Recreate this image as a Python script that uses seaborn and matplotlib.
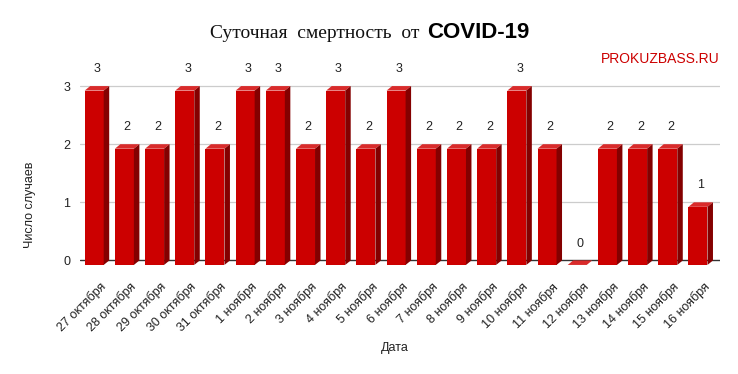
import numpy as np
import pandas as pd
import matplotlib
matplotlib.use("Agg")
import matplotlib.pyplot as plt
import matplotlib.transforms as mtrans
from matplotlib.patches import Polygon
import seaborn as sns

dates = ["27 октября", "28 октября", "29 октября", "30 октября", "31 октября",
         "1 ноября", "2 ноября", "3 ноября", "4 ноября", "5 ноября", "6 ноября",
         "7 ноября", "8 ноября", "9 ноября", "10 ноября", "11 ноября", "12 ноября",
         "13 ноября", "14 ноября", "15 ноября", "16 ноября"]
deaths = [3, 2, 2, 3, 2, 3, 3, 2, 3, 2, 3, 2, 2, 2, 3, 2, 0, 2, 2, 2, 1]
y_ticks = [0, 1, 2, 3]

title_main = "Суточная  смертность  от  "
title_bold = "COVID-19"
watermark = "PROKUZBASS.RU"
x_label = "Дата"
y_label = "Число случаев"

df = pd.DataFrame({"date": dates, "deaths": deaths})

sns.set_theme(style="white")
plt.rcParams['font.family'] = ['Liberation Sans', 'DejaVu Sans']

W, H, DPI = 738, 374, 100
fig = plt.figure(figsize=(W / DPI, H / DPI), dpi=DPI)
ax_left, ax_right = 80, 720
ax_top_px, ax_bot_px = 82, 268
ax = fig.add_axes([ax_left / W, 1 - ax_bot_px / H,
                   (ax_right - ax_left) / W, (ax_bot_px - ax_top_px) / H])

FRONT = "#cc0000"
SIDE = "#840000"
TOP = "#d92b2b"

n = len(dates)
sns.barplot(data=df, x="date", y="deaths", color=FRONT, width=0.63,
            saturation=1, ax=ax, zorder=3)

xmin, xmax = -0.47, n - 1 + 0.73
ymin, ymax = -0.13, 3.07
ax.set_xlim(xmin, xmax)
ax.set_ylim(ymin, ymax)

# pixel -> data unit conversions
px_x = (ax_right - ax_left) / (xmax - xmin)
px_y = (ax_bot_px - ax_top_px) / (ymax - ymin)
dx = 5.5 / px_x
dy = 4.5 / px_y
shift = 4.5 / px_y

for p, v in zip(ax.patches, deaths):
    x0 = p.get_x()
    w = p.get_width()
    h = p.get_height()
    p.set_y(-shift)
    p.set_edgecolor("none")
    p.set_clip_on(False)
    top = h - shift
    top_face = Polygon([(x0, top), (x0 + w, top), (x0 + w + dx, top + dy), (x0 + dx, top + dy)],
                       closed=True, facecolor=TOP, edgecolor="none", zorder=3, clip_on=False)
    side_face = Polygon([(x0 + w, -shift), (x0 + w + dx, -shift + dy), (x0 + w + dx, top + dy), (x0 + w, top)],
                        closed=True, facecolor=SIDE, edgecolor="none", zorder=3, clip_on=False)
    ax.add_patch(top_face)
    ax.add_patch(side_face)
    ax.annotate(str(v), (x0 + w / 2 + dx / 2, v), xytext=(0, 10), textcoords="offset points",
                ha="center", va="baseline", fontsize=9, color="#222222", zorder=5)

# grid
ax.set_yticks(y_ticks)
for t in y_ticks[1:]:
    ax.axhline(t, color="#cccccc", lw=0.9, zorder=1)
ax.axhline(0, color="#333333", lw=1.0, zorder=2)

for s in ax.spines.values():
    s.set_visible(False)

ax.tick_params(axis="y", length=0, pad=7, labelsize=9, labelcolor="#222222")
ax.tick_params(axis="x", length=0, pad=9, labelsize=9, labelcolor="#222222")
ax.set_xticks(range(n))
ax.set_xticklabels(dates, rotation=45, ha="right", rotation_mode="anchor")
offset = mtrans.ScaledTranslation(0.05, 0, fig.dpi_scale_trans)
for lab in ax.get_xticklabels():
    lab.set_transform(lab.get_transform() + offset)
ax.set_xlabel(x_label, fontsize=9, color="#222222")
ax.set_ylabel(y_label, fontsize=9, color="#222222")
ax.xaxis.set_label_coords((395 - ax_left) / (ax_right - ax_left), -(348 - ax_bot_px) / (ax_bot_px - ax_top_px))
ax.xaxis.label.set_va("center")
ax.yaxis.set_label_coords(-(ax_left - 30) / (ax_right - ax_left), (ax_bot_px - 205) / (ax_bot_px - ax_top_px))
ax.yaxis.label.set_va("center")

fig.text(720 / W, 1 - 59 / H, watermark, ha="right", va="center", fontsize=10, color="#cc0000")

# two-font title
t1 = fig.text(210 / W, 1 - 38 / H, title_main, ha="left", va="baseline", fontsize=14,
              family=["Liberation Serif", "DejaVu Serif"], color="#111111")
t2 = fig.text(427 / W, 1 - 38 / H, title_bold, ha="left", va="baseline", fontsize=16,
              fontweight="bold", family=["Liberation Sans", "DejaVu Sans"], color="#000000")

fig.savefig("out.png", dpi=DPI)
